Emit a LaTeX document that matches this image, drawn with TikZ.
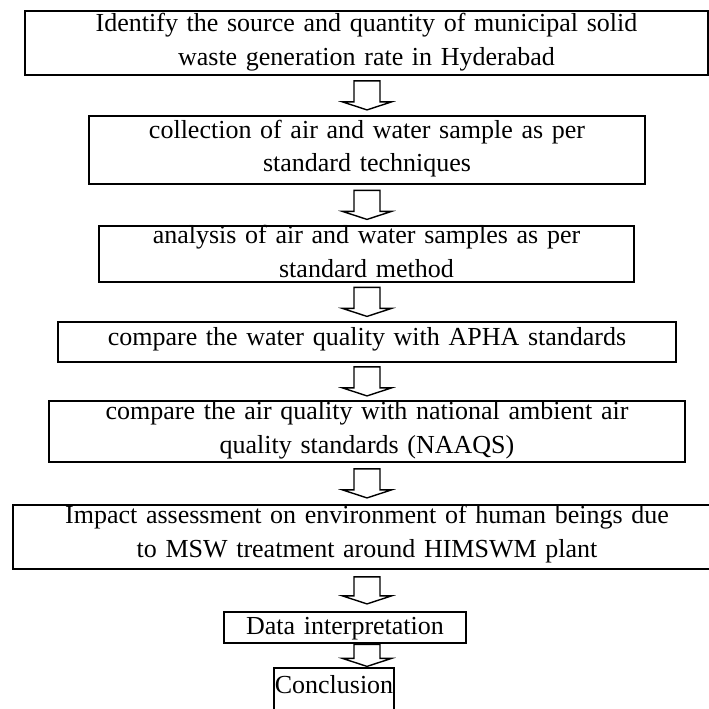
\documentclass[tikz,border=0pt]{standalone}
\usepackage{fontspec}
\setmainfont{Liberation Serif}
\usetikzlibrary{calc}

\begin{document}
\begin{tikzpicture}[x=0.5pt, y=0.5pt,
  stage/.style={draw, rectangle, line width=0.9pt, inner sep=0pt, anchor=north, align=center, font=\fontsize{13}{16.75}\selectfont},
  flowarrow/.style={draw, line width=0.7pt, line join=miter}]
\useasboundingbox (0,0) rectangle (709,-709);
\coordinate (axis) at (367,0);

\node[stage, text width=341.5pt, text height=10.5pt, text depth=21.5pt] (identify) at (366.5,-10) {Identify the source and quantity of municipal solid\\waste generation rate in Hyderabad};
\node[stage, text width=278pt, text height=11.25pt, text depth=22.75pt] (collect) at (367,-115) {collection of air and water sample as per\\standard techniques};
\node[stage, text width=267.5pt, text height=9pt, text depth=19pt] (analyse) at (366.5,-225) {analysis of air and water samples as per\\standard method};
\node[stage, text width=309pt, text height=12pt, text depth=8pt] (water) at (367,-321) {compare the water quality with APHA standards};
\node[stage, text width=318pt, text height=9.5pt, text depth=21pt] (air) at (367,-400) {compare the air quality with national ambient air\\quality standards (NAAQS)};
\node[stage, text width=354pt, text height=9.5pt, text depth=22.5pt] (impact) at (367,-504) {Impact assessment on environment of human beings due\\to MSW treatment around HIMSWM plant};
\node[stage, text width=121pt, text height=11.5pt, text depth=4pt] (interp) at (345,-611) {Data interpretation};
\node[stage, text width=60pt, text height=13pt, text depth=15pt] (concl) at (334,-667) {Conclusion};

\foreach \a/\b/\h in {identify/collect/29, collect/analyse/29, analyse/water/29, water/air/29, air/impact/29, impact/interp/27, interp/concl/22}
  \draw[flowarrow] ($(axis |- \a.south)!0.5!(axis |- \b.north)$) ++(-13,\h/2) -- ++(0,-\h+8) -- ++(-11.5,0) -- ++(24.5,-8) -- ++(24.5,8) -- ++(-11.5,0) -- ++(0,\h-8) -- cycle;
\end{tikzpicture}
\end{document}
